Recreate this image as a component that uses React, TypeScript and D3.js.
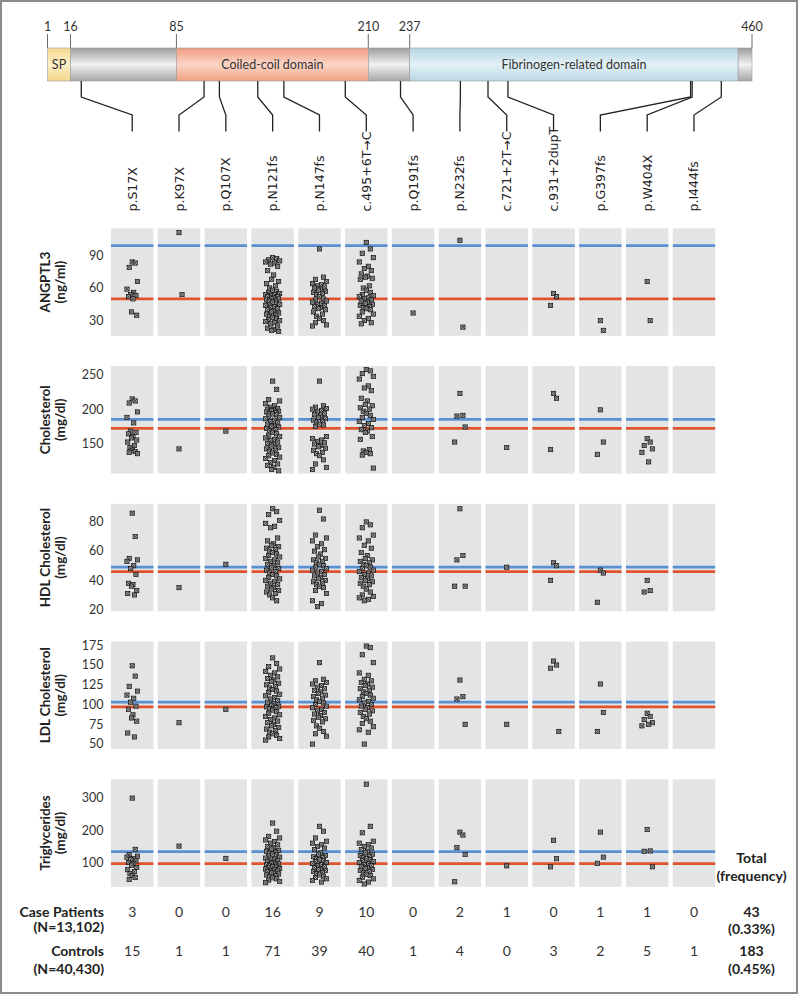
import React from 'react';
import * as d3 from 'd3';

const W = 800;
const H = 995;

// ---------- protein schematic ----------
const domainTicks = [1, 16, 85, 210, 237, 460];
const segStarts = [1, 16, 85, 210, 237, 451];
const segEnds = [16, 85, 210, 237, 451, 460];
const segLabels = ['SP', '', 'Coiled-coil domain', '', 'Fibrinogen-related domain', ''];
const segKinds = ['sp', 'gray', 'coil', 'gray', 'fib', 'gray'];

// ---------- mutations ----------
const mutations = [
  'p.S17X', 'p.K97X', 'p.Q107X', 'p.N121fs', 'p.N147fs', 'c.495+6T\u2192C', 'p.Q191fs',
  'p.N232fs', 'c.721+2T\u2192C', 'c.931+2dupT', 'p.G397fs', 'p.W404X', 'p.I444fs',
];
// position (amino acid) where each connector leaves the schematic
const mutationSites = [23, 103, 113, 138, 155, 195, 231, 270, 288, 301, 420, 421, 440];
const caseCounts = [3, 0, 0, 16, 9, 10, 0, 2, 1, 0, 1, 1, 0];
const controlCounts = [15, 1, 1, 71, 39, 40, 1, 4, 0, 3, 2, 5, 1];

// ---------- panels ----------
const panelTitles = ['ANGPTL3', 'Cholesterol', 'HDL Cholesterol', 'LDL Cholesterol', 'Triglycerides'];
const panelUnits = ['(ng/ml)', '(mg/dl)', '(mg/dl)', '(mg/dl)', '(mg/dl)'];
const panelTicks = [[30, 60, 90], [150, 200, 250], [20, 40, 60, 80], [50, 75, 100, 125, 150, 175], [100, 200, 300]];
const panelDomains = [[16, 115], [106, 263], [18.8, 92.4], [43.7, 179.7], [25.4, 357]];
const blueLine = [99, 185, 49, 103, 134];
const redLine = [50, 172, 46, 97, 97];

const angptl3 = [
  [84, 83, 79, 66, 59, 56, 54, 53, 52, 50, 38, 35],
  [111, 54],
  [],
  [88, 87, 86, 85, 84, 83, 82, 80, 76, 72, 68, 66, 64, 62, 60, 58, 57, 56, 55, 54, 54, 53, 52, 52, 51, 50, 50, 49, 48, 48, 47, 46, 45, 45, 44, 43, 42, 41, 40, 39, 38, 37, 36, 35, 34, 33, 32, 31, 30, 29, 28, 27, 25, 23, 22, 21, 20],
  [96, 70, 68, 66, 64, 63, 62, 61, 60, 59, 58, 57, 56, 55, 54, 52, 50, 49, 48, 47, 46, 45, 44, 43, 42, 41, 40, 38, 36, 34, 32, 30, 28, 26, 25],
  [102, 96, 92, 88, 84, 80, 78, 76, 73, 71, 70, 69, 68, 62, 60, 58, 56, 54, 53, 52, 51, 50, 49, 48, 47, 46, 45, 44, 43, 42, 41, 40, 38, 36, 34, 32, 30, 28, 27],
  [37],
  [104, 24],
  [],
  [55, 52, 44],
  [30, 21],
  [66, 30],
  [],
];

const cholesterol = [
  [215, 212, 209, 196, 188, 180, 168, 166, 164, 160, 158, 155, 152, 147, 144, 140, 138, 137, 135],
  [142],
  [168],
  [241, 229, 214, 212, 208, 205, 203, 201, 200, 199, 198, 197, 196, 195, 194, 193, 192, 190, 188, 186, 184, 182, 180, 178, 176, 175, 174, 172, 170, 168, 166, 164, 162, 160, 158, 156, 154, 152, 150, 148, 146, 144, 142, 140, 138, 136, 134, 132, 130, 128, 125, 122, 120, 118, 115, 112, 110],
  [241, 205, 203, 201, 200, 198, 196, 194, 192, 190, 188, 186, 184, 182, 180, 178, 177, 175, 160, 157, 155, 153, 151, 149, 147, 145, 143, 140, 137, 135, 132, 126, 120, 115, 112],
  [258, 256, 252, 248, 244, 234, 231, 227, 216, 212, 207, 205, 202, 200, 197, 194, 191, 188, 185, 182, 179, 176, 173, 170, 168, 166, 160, 156, 141, 139, 137, 135, 133, 114],
  [],
  [223, 191, 190, 174, 152],
  [144],
  [223, 216, 141],
  [199, 152, 134],
  [157, 152, 147, 142, 137, 123],
  [],
];

const hdl = [
  [86, 70, 55, 54, 53, 50, 48, 44, 38, 37, 36, 33, 31, 30],
  [35],
  [51],
  [89, 87, 85, 81, 79, 77, 76, 69, 67, 65, 64, 63, 62, 61, 60, 59, 58, 57, 56, 55, 54, 53, 52, 51, 50, 49, 48, 47, 46, 45, 44, 43, 42, 41, 40, 39, 38, 37, 36, 35, 34, 33, 32, 31, 30, 28, 26],
  [88, 82, 71, 69, 67, 65, 63, 61, 60, 58, 56, 55, 54, 53, 52, 51, 50, 49, 48, 47, 46, 45, 44, 43, 42, 41, 40, 39, 38, 37, 36, 35, 33, 31, 26, 24, 22],
  [80, 78, 76, 71, 69, 67, 64, 62, 59, 57, 55, 54, 53, 52, 51, 50, 49, 48, 47, 46, 45, 44, 43, 42, 41, 40, 39, 38, 37, 36, 34, 32, 30, 29, 28, 27, 26],
  [],
  [89, 57, 54, 36, 36],
  [49],
  [52, 50, 40],
  [47, 45, 25],
  [40, 33, 32],
  [],
];

const ldl = [
  [149, 136, 123, 117, 112, 108, 103, 98, 94, 87, 83, 79, 64, 59],
  [77],
  [94],
  [159, 152, 148, 145, 142, 140, 137, 135, 133, 131, 129, 127, 125, 123, 121, 119, 117, 115, 113, 111, 109, 107, 105, 103, 101, 99, 98, 97, 96, 95, 93, 91, 89, 87, 85, 83, 81, 79, 77, 75, 73, 71, 69, 67, 65, 63, 61, 59, 57, 55],
  [153, 132, 130, 128, 126, 124, 122, 120, 118, 116, 114, 112, 110, 108, 106, 104, 102, 100, 98, 96, 94, 92, 90, 88, 86, 84, 82, 80, 78, 73, 70, 66, 63, 60, 50],
  [174, 172, 163, 153, 140, 137, 132, 130, 128, 126, 124, 122, 120, 118, 116, 114, 112, 110, 108, 106, 104, 102, 100, 98, 96, 94, 92, 90, 88, 85, 82, 79, 76, 72, 68, 65, 50],
  [],
  [131, 110, 107, 75],
  [75],
  [155, 150, 146, 66],
  [126, 90, 66],
  [89, 85, 81, 77, 73, 75],
  [],
];

const triglycerides = [
  [299, 141, 125, 120, 117, 113, 110, 105, 100, 97, 92, 85, 78, 72, 66, 60, 54, 48],
  [151],
  [113],
  [222, 197, 181, 176, 170, 165, 160, 155, 150, 146, 142, 138, 135, 132, 129, 126, 123, 120, 117, 114, 111, 108, 105, 102, 100, 98, 96, 94, 92, 90, 88, 86, 84, 82, 80, 78, 76, 74, 72, 70, 68, 65, 62, 59, 56, 53, 50, 46, 42, 38],
  [212, 197, 176, 166, 160, 155, 150, 145, 140, 130, 126, 122, 118, 115, 112, 109, 106, 103, 100, 97, 94, 91, 88, 85, 82, 79, 76, 73, 70, 66, 62, 58, 54, 50, 45, 40],
  [342, 212, 192, 166, 160, 155, 150, 145, 140, 135, 130, 126, 122, 118, 115, 112, 109, 106, 103, 100, 97, 94, 91, 88, 85, 82, 79, 76, 72, 68, 64, 60, 55, 50, 45, 40, 34],
  [],
  [194, 185, 146, 125, 41],
  [90],
  [169, 112, 87],
  [194, 117, 98],
  [202, 136, 135, 87],
  [],
];

const panelData = [angptl3, cholesterol, hdl, ldl, triglycerides];

// deterministic horizontal spread pattern for strip points
const jitter = [0, 4, -4, 7, -7, 2, -2, 5, -5, 1, -1, 6, -6, 3, -3];

const FONT = 'Lato, "Open Sans", sans-serif';

const gradientStops: Record<string, string[]> = {
  sp: ['#f4d98e', '#fdf0c6', '#f2d68a'],
  gray: ['#9c9da0', '#f2f2f2', '#a6a7aa'],
  coil: ['#ee9a7e', '#fbd6c7', '#f0a083'],
  fib: ['#b5d5e1', '#e4f1f6', '#b9d8e3'],
};

function Marker({ x, y }: { x: number; y: number }) {
  const s = 2.1;
  return (
    <g transform={`translate(${x},${y})`}>
      <rect x={-s} y={-s} width={2 * s} height={2 * s} fill="#a8a8a8" stroke="#151515" strokeWidth={0.75} />
      <path d={`M${-s},${-s}L${s},${s}M${s},${-s}L${-s},${s}`} stroke="#151515" strokeWidth={0.6} />
    </g>
  );
}

export default function App() {
  const aa = d3.scaleLinear().domain([1, 460]).range([47.5, 752]);
  const col = d3
    .scaleBand<string>()
    .domain(mutations)
    .range([111, 715.2])
    .paddingInner(0.094)
    .paddingOuter(0);
  const bw = col.bandwidth();
  const cx = (m: string) => (col(m) as number) + bw / 2;

  const barTop = 48;
  const barBot = 81;
  const panelTop0 = 228.3;
  const panelStep = 137.75;
  const panelH = 107.5;

  return (
    <svg
      width={W}
      height={H}
      viewBox={`0 0 ${W} ${H}`}
      style={{ position: 'absolute', left: 0, top: 0, background: '#fff' }}
      fontFamily={FONT}
    >
      <defs>
        {Object.keys(gradientStops).map((k) => (
          <linearGradient key={k} id={`g-${k}`} x1="0" y1="0" x2="0" y2="1">
            <stop offset="0%" stopColor={gradientStops[k][0]} />
            <stop offset="50%" stopColor={gradientStops[k][1]} />
            <stop offset="100%" stopColor={gradientStops[k][2]} />
          </linearGradient>
        ))}
      </defs>
      <rect x={0} y={0} width={W} height={H} fill="#fff" />
      <rect x={1} y={1} width={796} height={992} fill="none" stroke="#8c8c8c" strokeWidth={2} />

      {/* protein schematic */}
      {domainTicks.map((t) => (
        <g key={`dt${t}`}>
          <line x1={aa(t)} x2={aa(t)} y1={34} y2={barTop} stroke="#444" strokeWidth={0.8} />
          <text x={aa(t)} y={31} textAnchor="middle" fontSize={12.5} fill="#333">
            {t}
          </text>
        </g>
      ))}
      {segStarts.map((s, i) => (
        <g key={`seg${i}`}>
          <rect
            x={aa(s)}
            y={barTop}
            width={aa(segEnds[i]) - aa(s)}
            height={barBot - barTop}
            fill={`url(#g-${segKinds[i]})`}
            stroke="#9a9a9a"
            strokeWidth={0.6}
          />
          {segLabels[i] && (
            <text
              x={(aa(s) + aa(segEnds[i])) / 2}
              y={(barTop + barBot) / 2}
              dy="0.35em"
              textAnchor="middle"
              fontSize={12.5}
              fill="#333"
            >
              {segLabels[i]}
            </text>
          )}
        </g>
      ))}

      {/* connectors and mutation labels */}
      {mutations.map((m, i) => {
        const sx = aa(mutationSites[i]);
        const lx = cx(m);
        return (
          <g key={`mut${i}`}>
            <path
              d={`M${sx},${barBot}L${sx},${97}L${lx},${115}L${lx},${131.5}`}
              fill="none"
              stroke="#222"
              strokeWidth={1.3}
            />
            <text
              transform={`translate(${lx},${211.5}) rotate(-90)`}
              dy="0.36em"
              textAnchor="start"
              fontSize={12.5}
              fontFamily='"DejaVu Sans", Verdana, sans-serif'
              fill="#222"
            >
              {m}
            </text>
          </g>
        );
      })}

      {/* panels */}
      {panelTitles.map((title, p) => {
        const top = panelTop0 + p * panelStep;
        const bottom = top + panelH;
        const y = d3.scaleLinear().domain(panelDomains[p]).range([bottom, top]);
        const mid = (top + bottom) / 2;
        return (
          <g key={`panel${p}`}>
            <text
              transform={`translate(${45},${mid}) rotate(-90)`}
              dy="0.36em"
              textAnchor="middle"
              fontSize={13.5}
              fontWeight={700}
              fill="#222"
            >
              {title}
            </text>
            <text
              transform={`translate(${60.5},${mid}) rotate(-90)`}
              dy="0.36em"
              textAnchor="middle"
              fontSize={13.5}
              fontWeight={700}
              fill="#222"
            >
              {panelUnits[p]}
            </text>
            {panelTicks[p].map((t) => (
              <text key={`t${t}`} x={103.5} y={y(t)} dy="0.35em" textAnchor="end" fontSize={12.5} fill="#333">
                {t}
              </text>
            ))}
            {mutations.map((m, i) => (
              <rect key={`bg${i}`} x={col(m)} y={top} width={bw} height={panelH} fill="#e3e4e6" />
            ))}
            {mutations.map((m, i) => (
              <g key={`ln${i}`}>
                <line x1={col(m)} x2={(col(m) as number) + bw} y1={y(blueLine[p])} y2={y(blueLine[p])} stroke="#5a8fd2" strokeWidth={2.8} />
                <line x1={col(m)} x2={(col(m) as number) + bw} y1={y(redLine[p])} y2={y(redLine[p])} stroke="#e0532f" strokeWidth={2.8} />
              </g>
            ))}
            {mutations.map((m, i) => {
              const vals = panelData[p][i];
              const spread = vals.length > 20 ? 1 : 0.75;
              return (
                <g key={`pts${i}`}>
                  {vals.map((v, k) => (
                    <Marker key={k} x={cx(m) + jitter[k % jitter.length] * spread} y={y(v)} />
                  ))}
                </g>
              );
            })}
          </g>
        );
      })}

      {/* totals header */}
      <text x={751.5} y={858} dy="0.35em" textAnchor="middle" fontSize={14} fontWeight={700} fill="#222">
        Total
      </text>
      <text x={751.5} y={876.5} dy="0.35em" textAnchor="middle" fontSize={14} fontWeight={700} fill="#222">
        (frequency)
      </text>

      {/* counts table */}
      <text x={104} y={911.7} dy="0.35em" textAnchor="end" fontSize={14} fontWeight={700} fill="#222">
        Case Patients
      </text>
      <text x={104} y={927} dy="0.35em" textAnchor="end" fontSize={14} fontWeight={700} fill="#222">
        (N=13,102)
      </text>
      <text x={104} y={950.7} dy="0.35em" textAnchor="end" fontSize={14} fontWeight={700} fill="#222">
        Controls
      </text>
      <text x={104} y={969} dy="0.35em" textAnchor="end" fontSize={14} fontWeight={700} fill="#222">
        (N=40,430)
      </text>
      {mutations.map((m, i) => (
        <g key={`cnt${i}`}>
          <text x={cx(m)} y={911.7} dy="0.35em" textAnchor="middle" fontSize={14} fill="#333">
            {caseCounts[i]}
          </text>
          <text x={cx(m)} y={950.7} dy="0.35em" textAnchor="middle" fontSize={14} fill="#333">
            {controlCounts[i]}
          </text>
        </g>
      ))}
      <text x={751.5} y={911.7} dy="0.35em" textAnchor="middle" fontSize={14} fontWeight={700} fill="#222">
        {d3.sum(caseCounts)}
      </text>
      <text x={751.5} y={929.3} dy="0.35em" textAnchor="middle" fontSize={14} fontWeight={700} fill="#222">
        {`(${((d3.sum(caseCounts) / 13102) * 100).toFixed(2)}%)`}
      </text>
      <text x={751.5} y={950.7} dy="0.35em" textAnchor="middle" fontSize={14} fontWeight={700} fill="#222">
        {d3.sum(controlCounts)}
      </text>
      <text x={751.5} y={969.3} dy="0.35em" textAnchor="middle" fontSize={14} fontWeight={700} fill="#222">
        {`(${((d3.sum(controlCounts) / 40430) * 100).toFixed(2)}%)`}
      </text>
    </svg>
  );
}
